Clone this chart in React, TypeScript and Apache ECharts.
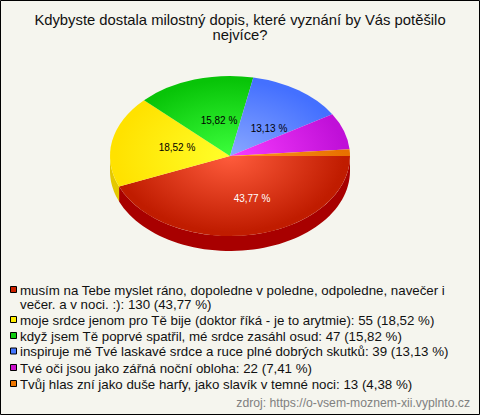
import React, { useEffect, useRef } from "react";
import * as echarts from "echarts";

const titleText = "Kdybyste dostala milostný dopis, které vyznání by Vás potěšilo\nnejvíce?";
const pieValues = [130, 55, 47, 39, 22, 4];
const pieLabels = ["43,77 %", "18,52 %", "15,82 %", "13,13 %", "", ""];
const labelColors = ["#ffffff", "#000000", "#000000", "#000000", "#000000", "#000000"];
const innerColors = ["#ff5c3c", "#ffff2a", "#3cff3c", "#8aa8ff", "#f83cff", "#ff9a20"];
const outerColors = ["#c01c00", "#ffe200", "#08c408", "#4470ff", "#c010d8", "#e87000"];
const sideColors = ["#a80000", "#e4c800", "#08a008", "#3050d0", "#a000b0", "#c05800"];
const legendColors = ["#cc2200", "#ffee00", "#11cc11", "#4477ff", "#cc11cc", "#ee7700"];
const legendTexts = [
  "musím na Tebe myslet ráno, dopoledne v poledne, odpoledne, navečer i\nvečer. a v noci. :): 130 (43,77 %)",
  "moje srdce jenom pro Tě bije (doktor říká - je to arytmie): 55 (18,52 %)",
  "když jsem Tě poprvé spatřil, mé srdce zasáhl osud: 47 (15,82 %)",
  "inspiruje mě Tvé laskavé srdce a ruce plné dobrých skutků: 39 (13,13 %)",
  "Tvé oči jsou jako zářná noční obloha: 22 (7,41 %)",
  "Tvůj hlas zní jako duše harfy, jako slavík v temné noci: 13 (4,38 %)",
];
const source = "zdroj: https://o-vsem-moznem-xii.vyplnto.cz";

const FONT = "'Liberation Sans', Arial, sans-serif";
const CX = 230, CY = 156, RX = 120, RY = 80, DEPTH = 15;
const LABEL_OFFSETS = [[22, 42], [-53, -9], [-11, -36], [39, -28], [0, 0], [0, 0]];
const LEGEND_CENTERS = [290, 320, 336, 351.5, 368, 384];
const total = pieValues.reduce((a, b) => a + b, 0);

const renderItem = (params: any, api: any) => {
  const i = params.dataIndex;
  const before = pieValues.slice(0, i).reduce((a, b) => a + b, 0);
  const a0 = (before / total) * Math.PI * 2;
  const a1 = ((before + api.value(0)) / total) * Math.PI * 2;
  const children: any[] = [];

  const wallFrom = a0, wallTo = Math.min(a1, Math.PI);
  if (wallFrom < Math.PI) {
    const top: number[][] = [], bottom: number[][] = [];
    const n = 60;
    for (let k = 0; k <= n; k++) {
      const a = wallFrom + ((wallTo - wallFrom) * k) / n;
      const x = CX + RX * Math.cos(a), y = CY + RY * Math.sin(a);
      top.push([x, y]);
      bottom.unshift([x, y + DEPTH]);
    }
    children.push({ type: "polygon", shape: { points: top.concat(bottom) }, style: { fill: sideColors[i] } });
  }

  children.push({
    type: "sector",
    x: CX,
    y: CY,
    scaleY: RY / RX,
    shape: { cx: 0, cy: 0, r0: 0, r: RX, startAngle: a0, endAngle: a1, clockwise: true },
    style: {
      fill: {
        type: "radial", x: 0, y: 0, r: RX, global: true,
        colorStops: [
          { offset: 0, color: innerColors[i] },
          { offset: 0.95, color: outerColors[i] },
          { offset: 1, color: outerColors[i] },
        ],
      },
    },
  });

  if (pieLabels[i]) {
    children.push({
      type: "text",
      x: CX + LABEL_OFFSETS[i][0],
      y: CY + LABEL_OFFSETS[i][1],
      z2: 10,
      style: { text: pieLabels[i], font: `10px ${FONT}`, fill: labelColors[i], align: "center", verticalAlign: "middle" },
    });
  }
  return { type: "group", children };
};

export default function App() {
  const ref = useRef<HTMLDivElement>(null);
  useEffect(() => {
    document.body.style.margin = "0";
    const chart = echarts.init(ref.current!, null, { renderer: "svg" });
    const graphics: any[] = [
      { type: "rect", shape: { x: 0.5, y: 0.5, width: 479, height: 414 }, style: { fill: "#f5f5ee", stroke: "#000000", lineWidth: 1 }, z: -10 },
      { type: "text", x: 240, y: 12.5, style: { text: titleText, font: `14.8px ${FONT}`, lineHeight: 15, fill: "#111111", align: "center", verticalAlign: "top" } },
    ];
    legendTexts.forEach((t, i) => {
      const c = LEGEND_CENTERS[i];
      graphics.push({ type: "rect", shape: { x: 10.5, y: c - 3.5, width: 6, height: 6 }, style: { fill: legendColors[i], stroke: "#000000", lineWidth: 1 } });
      graphics.push({ type: "text", x: 20, y: c - 7, style: { text: t, font: `13.3px ${FONT}`, lineHeight: 14, fill: "#111111", align: "left", verticalAlign: "top" } });
    });
    graphics.push({ type: "text", x: 470, y: 403, style: { text: source, font: `12.2px ${FONT}`, fill: "#808080", align: "right", verticalAlign: "middle" } });

    chart.setOption({
      animation: false,
      graphic: { elements: graphics },
      series: [{ type: "custom", coordinateSystem: "none", renderItem, data: pieValues.map((v) => [v]), silent: true, z: 5 }],
    });
    return () => chart.dispose();
  }, []);
  return <div ref={ref} style={{ width: 480, height: 415 }} />;
}
